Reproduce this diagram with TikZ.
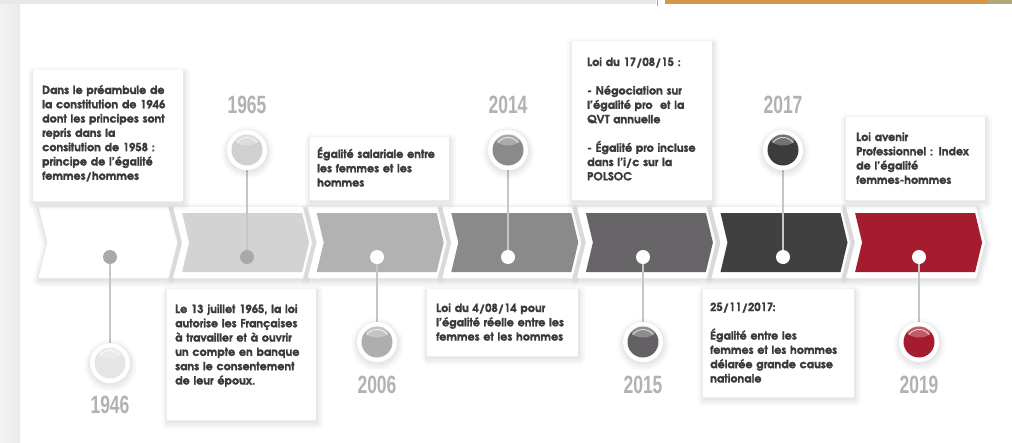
\documentclass[tikz,border=0pt]{standalone}
\usepackage{fontspec}
\setmainfont{TeX Gyre Adventor}
\newfontfamily\boxfont[Extension=.otf, FakeBold=1.4]{texgyreadventor-bold}
\newfontfamily\yearfont[FakeStretch=0.7]{Liberation Sans}
\definecolor{txtc}{HTML}{3A3A3A}
\definecolor{yrc}{HTML}{B2B2B2}
\definecolor{ch1}{HTML}{FFFFFF}
\definecolor{ch2}{HTML}{D3D3D3}
\definecolor{ch3}{HTML}{B2B2B2}
\definecolor{ch4}{HTML}{8A8A8A}
\definecolor{ch5}{HTML}{676567}
\definecolor{ch6}{HTML}{404040}
\definecolor{ch7}{HTML}{A61C2F}
\definecolor{bl1}{HTML}{E6E4E4}
\definecolor{bl2}{HTML}{D0D0D0}
\definecolor{bl3}{HTML}{AEAEAE}
\definecolor{bl4}{HTML}{8A8A8A}
\definecolor{bl5}{HTML}{636163}
\definecolor{bl6}{HTML}{3C3C3C}
\definecolor{bl7}{HTML}{A51C30}
\definecolor{dotg}{HTML}{A9A9A9}
\definecolor{stemc}{HTML}{C6C6C6}
\definecolor{topgray}{HTML}{E8E8E8}
\definecolor{toporange}{HTML}{D6954A}
\definecolor{topolive}{HTML}{B2A77A}
\begin{document}
\begin{tikzpicture}[x=1pt,y=-1pt,
  sh/.style={preaction={draw=black, draw opacity=#1, fill opacity=0, line join=round,
      line width=12pt, transform canvas={shift={(0.5pt,-2.5pt)}}},
    preaction={draw=black, draw opacity=#1, fill opacity=0, line join=round,
      line width=8pt, transform canvas={shift={(0.5pt,-2.5pt)}}},
    preaction={draw=black, draw opacity=#1, fill opacity=0, line join=round,
      line width=5pt, transform canvas={shift={(0.5pt,-2pt)}}},
    preaction={draw=black, draw opacity=#1, fill opacity=0, line join=round,
      line width=2pt, transform canvas={shift={(0.5pt,-1.5pt)}}}},
  box/.style={fill=white, draw=none, anchor=north west, inner sep=0pt, sh=0.022},
  txt/.style={anchor=base west, inner sep=0pt, align=left, text width=200pt, text=txtc,
    font=\boxfont\fontsize{11.2}{14.3}\selectfont},
  yearst/.style={inner sep=0pt, text=yrc, font=\yearfont\bfseries\fontsize{25}{25}\selectfont},
  dot/.style={circle, inner sep=0pt, minimum size=14pt, draw=none},
  ring/.style={circle, inner sep=0pt, minimum size=40pt, fill=white, draw=none, sh=0.025},
  ball/.style={circle, inner sep=0pt, minimum size=31pt, draw=none},
  stem/.style={draw=stemc, line width=2.2pt}]
\useasboundingbox (0,0) rectangle (1012,442);
\fill[white] (0,0) rectangle (1012,442);
\shade[left color=white!95!black, right color=white!92!black] (0,0) rectangle (20,442);
\fill[topgray] (0,0) rectangle (656,4);
\fill[black!35] (656.5,0) rectangle (658,6);
\fill[toporange] (665,0) rectangle (987,4);
\fill[topolive] (987,0) rectangle (1012,4);

% chevrons
\foreach \i/\col in {0/ch1,1/ch2,2/ch3,3/ch4,4/ch5,5/ch6,6/ch7}{
  \pgfmathsetmacro{\L}{47.5+134.6*\i}
  \fill[white, sh=0.028] (\L-9,207) -- (\L+121,207) -- (\L+130,242.5) -- (\L+121,278) -- (\L-9,278) -- (\L,242.5) -- cycle;
  \fill[\col] (\L,213) -- (\L+120,213) -- (\L+127,242.5) -- (\L+120,272) -- (\L,272) -- (\L+7,242.5) -- cycle;
}

% stems (drawn first, under the dots and rings)
\foreach \n/\x/\by in {1/110/363, 2/247/150, 3/377/342, 4/508/150, 5/643/342, 6/783/150, 7/919/342}{
  \coordinate (p\n) at (\x,257);
  \coordinate (q\n) at (\x,\by);
  \draw[stem] (p\n) -- (q\n);
}

% text boxes
\node[box, minimum width=150pt, minimum height=131pt] (b1) at (33,70) {};
\node[box, minimum width=139pt, minimum height=63pt] (b2) at (310,137) {};
\node[box, minimum width=140pt, minimum height=159pt] (b3) at (572,41) {};
\node[box, minimum width=139pt, minimum height=83pt] (b4) at (846,117) {};
\node[box, minimum width=149pt, minimum height=131pt] (b5) at (167,289) {};
\node[box, minimum width=151pt, minimum height=67pt] (b6) at (427,289) {};
\node[box, minimum width=151pt, minimum height=108pt] (b7) at (703,289) {};

\node[txt] (t1) at (42,94) {Dans le préambule de\\la constitution de 1946\\dont les principes sont\\repris dans la\\consitution de 1958 :\\principe de l’égalité\\femmes/hommes};
\node[txt] (t2) at (317,158) {Égalité salariale entre\\les femmes et les\\hommes};
\node[txt] (t3) at (587,66) {Loi du 17/08/15 :\\[14.3pt]- Négociation sur\\l’égalité pro\ \ et la\\QVT annuelle\\[14.3pt]- Égalité pro incluse\\dans l’i/c sur la\\POLSOC};
\node[txt] (t4) at (856,141) {Loi avenir\\Professionnel : Index\\de l’égalité\\femmes-hommes};
\node[txt] (t5) at (175,313) {Le 13 juillet 1965, la loi\\autorise les Françaises\\à travailler et à ouvrir\\un compte en banque\\sans le consentement\\de leur époux.};
\node[txt] (t6) at (436,312) {Loi du 4/08/14 pour\\l’égalité réelle entre les\\femmes et les hommes};
\node[txt] (t7) at (710,311) {25/11/2017:\\[14.3pt]Égalité entre les\\femmes et les hommes\\délarée grande cause\\nationale};

% dots, rings, balls
\foreach \n/\x/\by/\bc/\dc in {1/110/363/bl1/dotg, 2/247/150/bl2/dotg, 3/377/342/bl3/white, 4/508/150/bl4/white, 5/643/342/bl5/white, 6/783/150/bl6/white, 7/919/342/bl7/white}{
  \node[dot, fill=\dc] (d\n) at (p\n) {};
  \node[ring] (r\n) at (q\n) {};
  \node[ball, fill=\bc] (k\n) at (q\n) {};
  \begin{scope}
    \clip (\x,\by) circle (15.5);
    \fill[white, opacity=0.28] (\x,\by-11) ellipse (12 and 6.5);
  \end{scope}
  \draw[white, opacity=0.7, line width=0.9pt] (\x,\by) ++(215:12.5) arc[start angle=215, end angle=325, radius=12.5];
}

% years
\node[yearst] (y1) at (110,405) {1946};
\node[yearst] (y2) at (247,105) {1965};
\node[yearst] (y3) at (377,385) {2006};
\node[yearst] (y4) at (508,105) {2014};
\node[yearst] (y5) at (643,385) {2015};
\node[yearst] (y6) at (783,105) {2017};
\node[yearst] (y7) at (919,385) {2019};
\end{tikzpicture}
\end{document}
